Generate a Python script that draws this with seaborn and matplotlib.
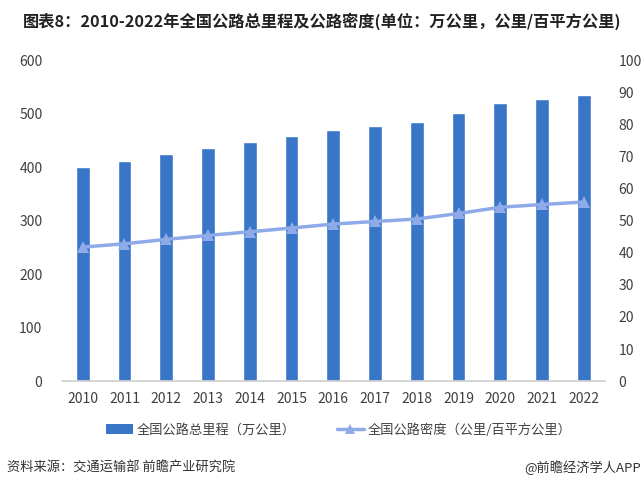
import matplotlib
matplotlib.use('Agg')
import matplotlib.pyplot as plt
import seaborn as sns
import pandas as pd
import numpy as np
from matplotlib.lines import Line2D
from matplotlib.patches import Patch

years = ['2010', '2011', '2012', '2013', '2014', '2015', '2016',
         '2017', '2018', '2019', '2020', '2021', '2022']
mileage = [400.82, 410.64, 423.75, 435.62, 446.39, 457.73, 469.63,
           477.35, 484.65, 501.25, 519.81, 528.07, 535.48]
density = [41.75, 42.77, 44.14, 45.38, 46.50, 47.68, 48.92,
           49.72, 50.48, 52.21, 54.15, 55.01, 55.78]

bar_color = '#3a76c8'
line_color = '#8eaae8'
text_color = '#404040'

sns.set_theme(style='white')
plt.rcParams['font.family'] = ['Noto Sans CJK SC', 'DejaVu Sans']

df = pd.DataFrame({'year': years, 'mileage': mileage, 'density': density})
df['pos'] = np.arange(len(df))

fig = plt.figure(figsize=(6.44, 4.88), dpi=100)
ax = fig.add_axes([0.096, 0.219, 0.843, 0.658])

sns.barplot(data=df, x='year', y='mileage', color=bar_color, width=0.33,
            saturation=1, ax=ax)
ax.set_ylim(0, 600)
ax.set_yticks(range(0, 601, 100))
ax.set_xlim(-0.5, len(years) - 0.5)
ax.set_xlabel('')
ax.set_ylabel('')

ax2 = ax.twinx()
sns.lineplot(data=df, x='pos', y='density', color=line_color, marker='^',
             markersize=9, markeredgewidth=0, linewidth=2.5, ax=ax2)
ax2.set_ylim(0, 100)
ax2.set_yticks(range(0, 101, 10))
ax2.set_ylabel('')
ax2.set_xlabel('')
ax2.set_xlim(-0.5, len(years) - 0.5)

for a in (ax, ax2):
    for s in a.spines.values():
        s.set_visible(False)
    a.tick_params(axis='both', length=0, labelsize=10, colors=text_color, pad=6)
ax.spines['bottom'].set_visible(True)
ax.spines['bottom'].set_color('#d0d0d0')
ax.tick_params(axis='x', pad=8)
ax.tick_params(axis='y', pad=14)
ax2.tick_params(axis='y', pad=10)

fig.text(0.036, 0.956, '图表8：2010-2022年全国公路总里程及公路密度(单位：万公里，公里/百平方公里)',
         fontsize=11.7, fontweight='bold', color='#222222', va='center')

handles = [Patch(facecolor=bar_color, edgecolor='none'),
           Line2D([0], [0], color=line_color, marker='^', markersize=7,
                  markeredgewidth=0, linewidth=2.5)]
labels = ['全国公路总里程（万公里）', '全国公路密度（公里/百平方公里）']
fig.legend(handles, labels, loc='center left', bbox_to_anchor=(0.164, 0.119),
           ncol=2, frameon=False, fontsize=9.5, handlelength=2.05,
           handletextpad=0.3, columnspacing=3.1, borderpad=0, borderaxespad=0,
           labelcolor=text_color)

fig.text(0.011, 0.041, '资料来源：交通运输部 前瞻产业研究院', fontsize=9.5,
         color='#333333', va='center')
fig.text(0.995, 0.041, '@前瞻经济学人APP', fontsize=9.5, color='#333333',
         va='center', ha='right')

fig.savefig('out.png', dpi=100)
